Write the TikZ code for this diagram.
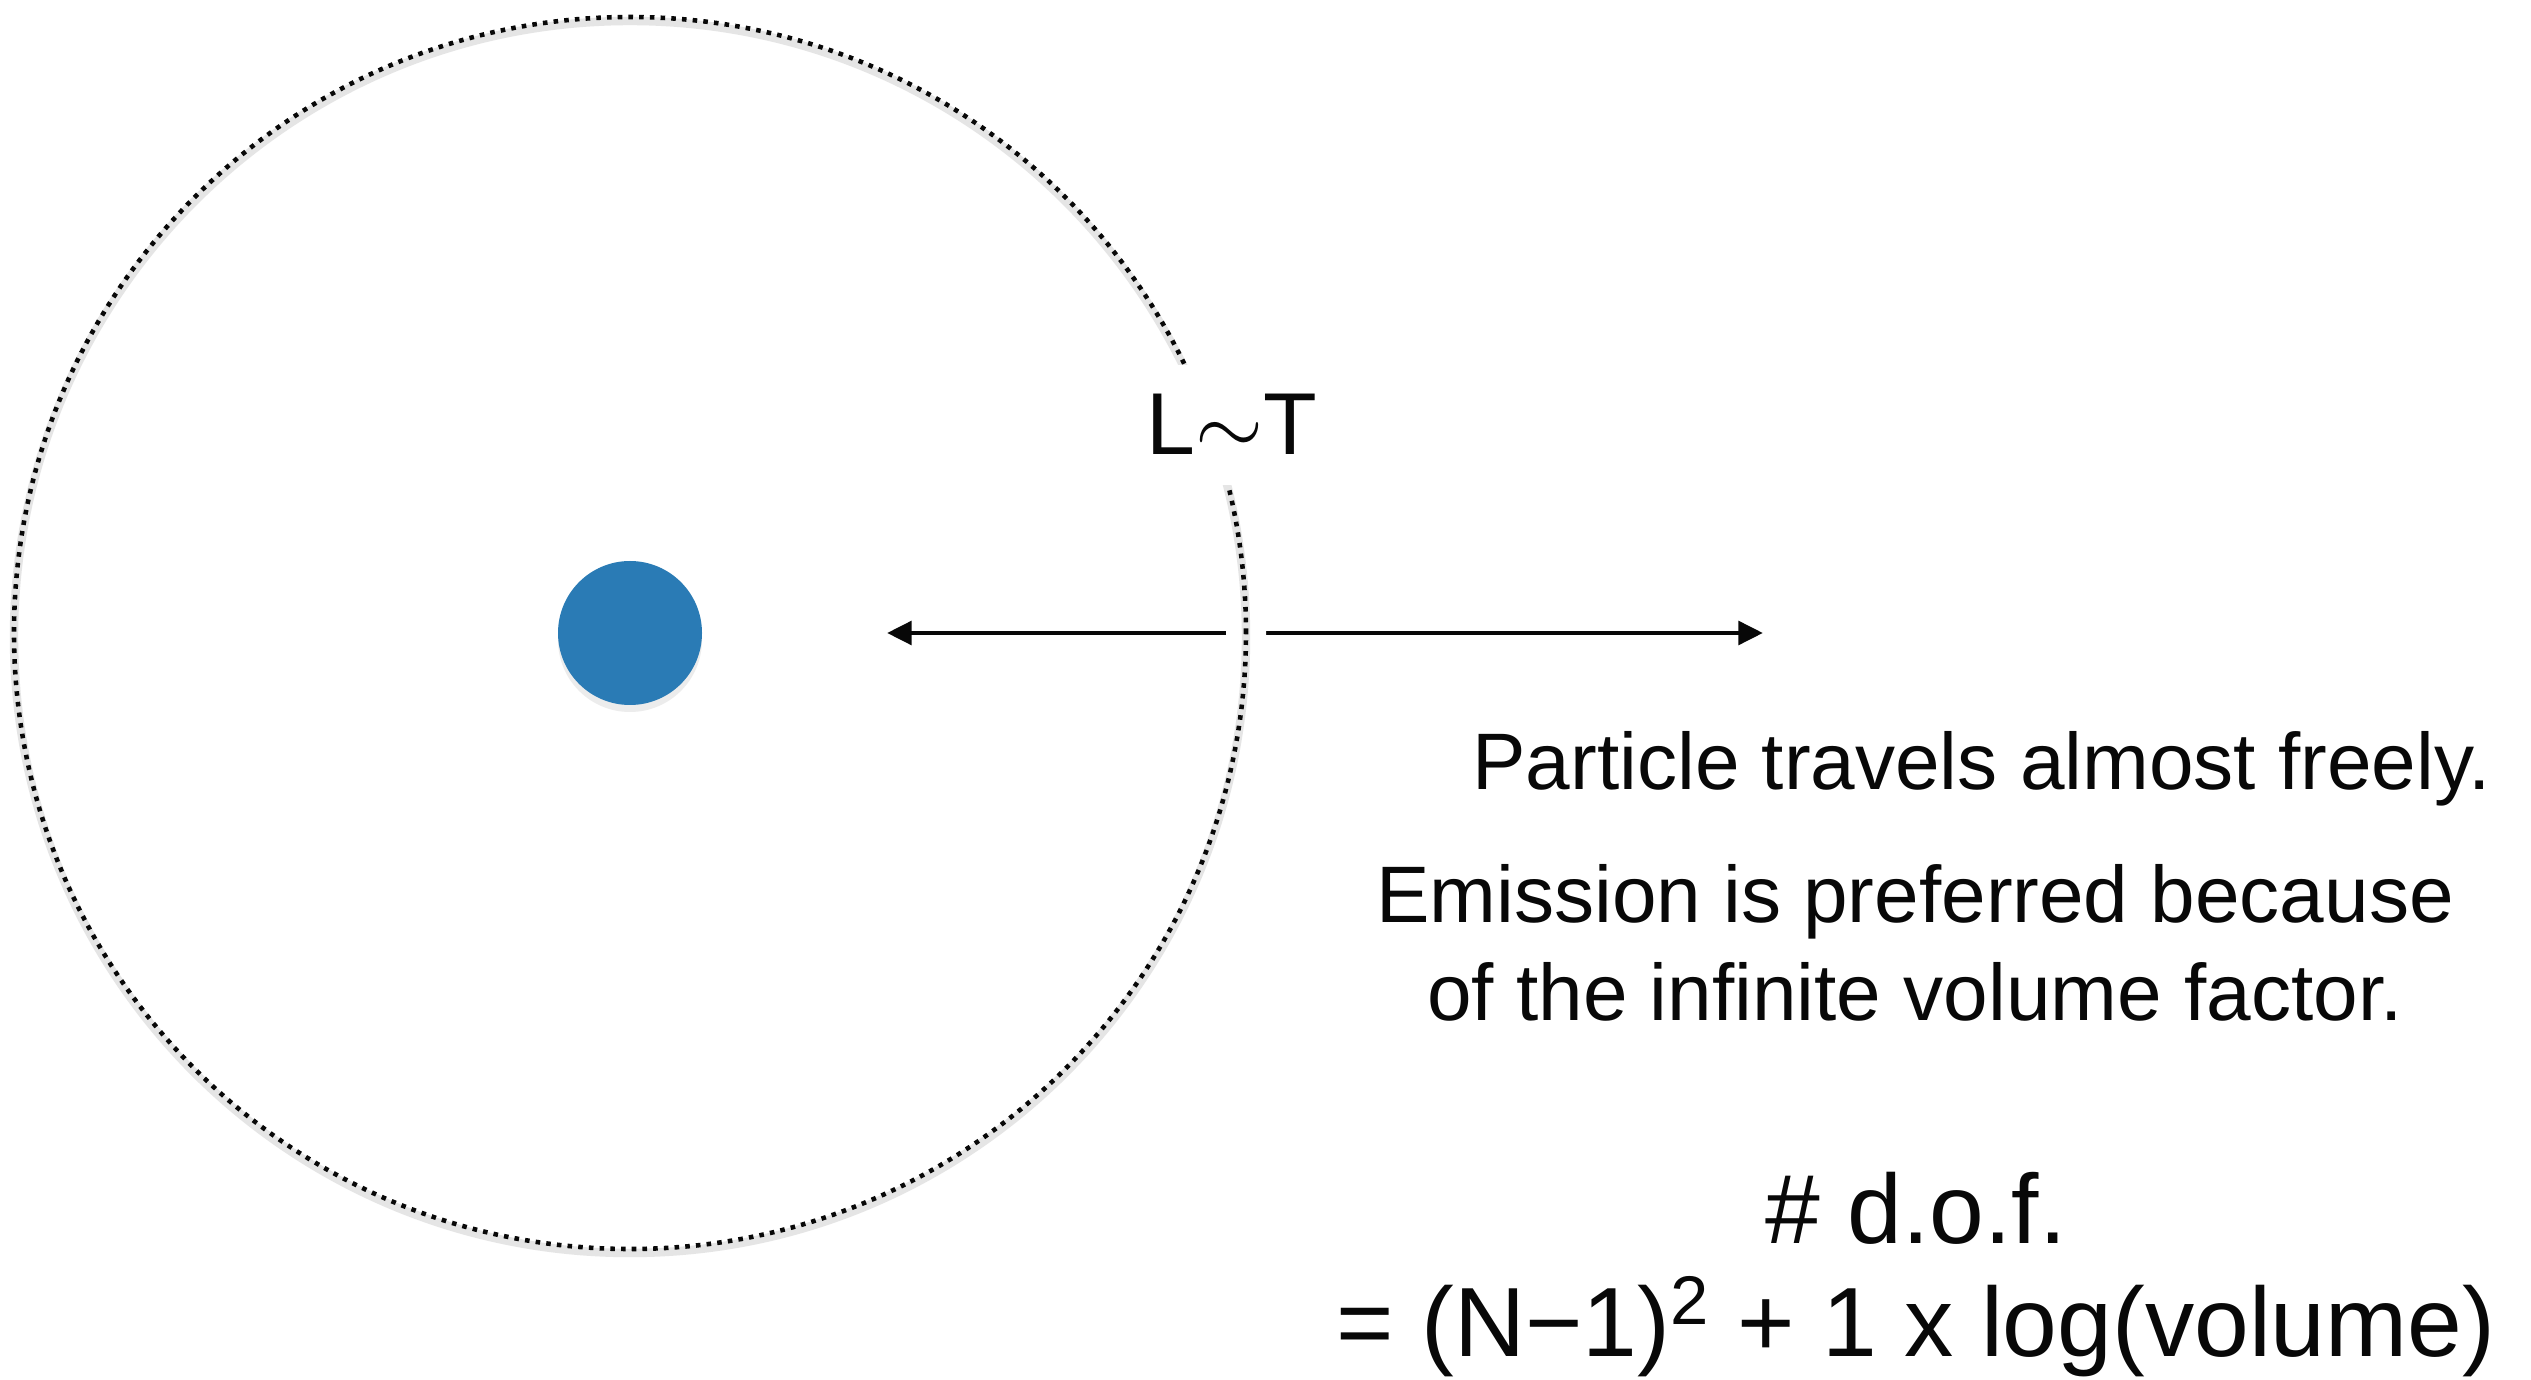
\documentclass[tikz,border=0pt]{standalone}
\usepackage{fontspec}
\setsansfont{Liberation Sans}
\usepackage{xcolor}
\usetikzlibrary{arrows.meta,shadows}
\definecolor{dotblue}{RGB}{42,123,181}
\definecolor{ink}{RGB}{8,8,8}

\begin{document}
\begin{tikzpicture}
  \useasboundingbox[fill=white] (0,0) rectangle (25.31,13.79);
  \coordinate (centre) at (6.30,7.46);
  \coordinate (farleft) at (8.87,7.46);
  \coordinate (farright) at (17.63,7.46);

  % free path, cut where it crosses the horizon
  \draw[ink, line width=1.4pt, {Triangle[length=7pt,width=6.6pt]}-{Triangle[length=7pt,width=6.6pt]}] (farleft) -- (farright);
  \draw[white, line width=4mm] (centre) circle (6.16);
  \draw[black!10, line width=2.4pt] ([yshift=-0.4mm]centre) circle (6.16);
  \draw[ink, line width=1.3pt, dash pattern=on 1.3pt off 1.75pt] (centre) circle (6.16);
  \fill[dotblue, drop shadow={shadow xshift=0pt, shadow yshift=-0.7mm, opacity=0.15}] (centre) circle (0.72);

  \node (size) [fill=white, inner sep=3mm, text=ink, font=\fontsize{25}{30}\sffamily] at (12.32,9.24) [anchor=base] {L$\sim$T};

  % multi-line nodes sit on their last baseline
  \node (free) [align=left, text=ink, font=\fontsize{22.8}{27.6}\sffamily] at (14.60,5.90) [anchor=base west] {Particle travels almost freely.};
  \node (emission) [align=center, text=ink, font=\fontsize{22.8}{27.6}\sffamily] at (19.15,3.59) [anchor=base] {Emission is preferred because\\of the infinite volume factor.};

  \node (dof) [align=center, text=ink, font=\fontsize{28}{32}\sffamily] at (19.16,0.23) [anchor=base] {\# d.o.f.\\= (N−1)\textsuperscript{2} + 1 x log(volume)};
\end{tikzpicture}
\end{document}
